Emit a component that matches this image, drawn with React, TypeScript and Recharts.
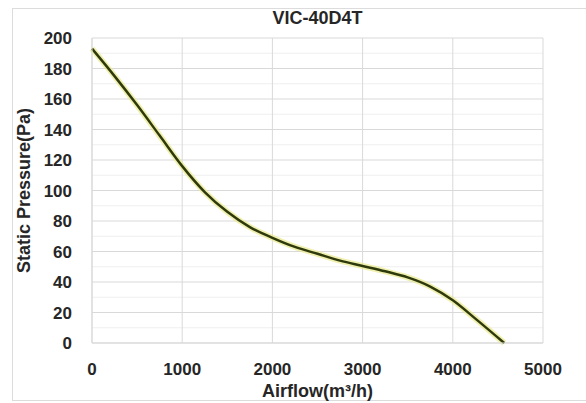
import React from 'react';
import {
    LineChart,
    Line,
    XAxis,
    YAxis,
    CartesianGrid,
    Label,
} from 'recharts';

// fan curve
const airflow = [0, 250, 500, 750, 1000, 1250, 1500, 1750, 2000, 2250, 2500, 2750, 3000, 3250, 3500, 3750, 4000, 4250, 4570];
const pressure = [193, 175, 156, 136, 116, 99, 86, 76, 69, 63, 58.5, 54, 50.5, 47, 43, 37, 28, 16, 0];

const xTicks = [0, 1000, 2000, 3000, 4000, 5000];
const yTicks = [0, 20, 40, 60, 80, 100, 120, 140, 160, 180, 200];
const yMinor = [10, 30, 50, 70, 90, 110, 130, 150, 170, 190];

const title = 'VIC-40D4T';

const font = '"Liberation Sans", Arial, sans-serif';

export default function App() {
    const data = airflow.map((x, i) => ({ x, y: pressure[i] }));

    const tickStyle = { fontFamily: font, fontSize: 17, fontWeight: 700, fill: '#262626' };

    return (
        <div style={{ position: 'absolute', left: 0, top: 0, width: 586, height: 403, background: '#fff' }}>
            <div
                style={{
                    position: 'absolute',
                    left: 12,
                    top: 8,
                    width: 580,
                    height: 391,
                    border: '1px solid #dcdcdc',
                }}
            />
            <div
                style={{
                    position: 'absolute',
                    left: 92,
                    top: 8,
                    width: 451,
                    textAlign: 'center',
                    fontFamily: font,
                    fontWeight: 700,
                    fontSize: 18,
                    color: '#262626',
                }}
            >
                {title}
            </div>
            <LineChart
                width={586}
                height={403}
                data={data}
                margin={{ top: 38, right: 43, bottom: 0, left: 0 }}
                style={{ position: 'absolute', left: 0, top: 0 }}
            >
                <CartesianGrid horizontalValues={yMinor} vertical={false} stroke="#efefef" />
                <CartesianGrid
                    horizontalValues={yTicks}
                    verticalValues={xTicks}
                    stroke="#d9d9d9"
                />
                <XAxis
                    dataKey="x"
                    type="number"
                    domain={[0, 5000]}
                    ticks={xTicks}
                    tickLine={false}
                    axisLine={{ stroke: '#d9d9d9' }}
                    tick={tickStyle}
                    tickMargin={14}
                    height={60}
                    interval={0}
                >
                    <Label
                        value="Airflow(m³/h)"
                        position="insideBottom"
                        offset={6}
                        style={{ fontFamily: font, fontSize: 18, fontWeight: 700, fill: '#262626' }}
                    />
                </XAxis>
                <YAxis
                    type="number"
                    domain={[0, 200]}
                    ticks={yTicks}
                    tickLine={false}
                    axisLine={{ stroke: '#d9d9d9' }}
                    tick={tickStyle}
                    tickMargin={14}
                    width={92}
                    interval={0}
                >
                    <Label
                        value="Static Pressure(Pa)"
                        angle={-90}
                        position="insideLeft"
                        offset={24}
                        style={{ fontFamily: font, fontSize: 18, fontWeight: 700, fill: '#262626', textAnchor: 'middle' }}
                    />
                </YAxis>
                <Line
                    type="monotone"
                    dataKey="y"
                    stroke="#e9e98f"
                    strokeOpacity={0.7}
                    strokeWidth={6}
                    dot={false}
                    activeDot={false}
                    isAnimationActive={false}
                />
                <Line
                    type="monotone"
                    dataKey="y"
                    stroke="#2f3a0c"
                    strokeWidth={2.5}
                    dot={false}
                    activeDot={false}
                    isAnimationActive={false}
                />
            </LineChart>
        </div>
    );
}
